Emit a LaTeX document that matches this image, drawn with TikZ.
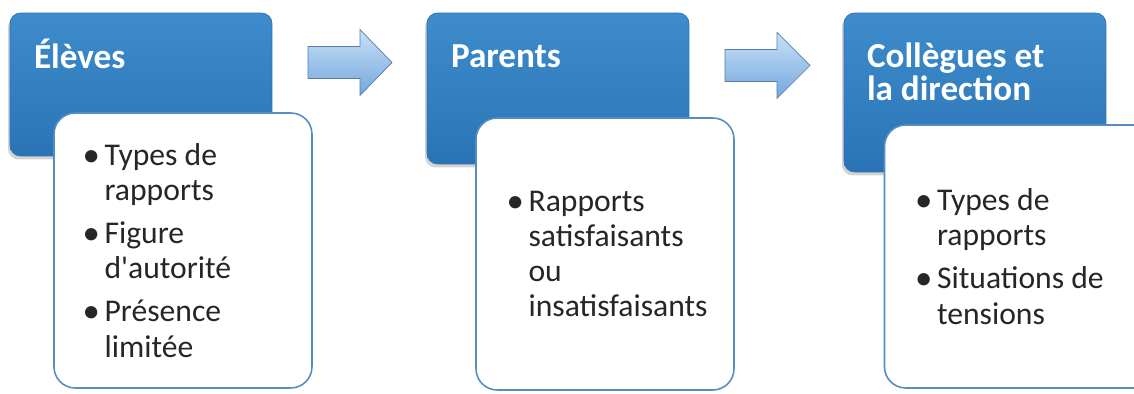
\documentclass[tikz,border=0pt]{standalone}
\usepackage{fontspec}
\setmainfont{Carlito}
\usetikzlibrary{positioning,shadows}
\definecolor{entetehaut}{RGB}{62,140,204}
\definecolor{entetebas}{RGB}{42,116,182}
\definecolor{cadre}{RGB}{84,141,196}
\definecolor{flechehaut}{RGB}{200,226,248}
\definecolor{flechebas}{RGB}{116,166,220}
\newcommand{\puce}{\makebox[0.44cm][l]{\raisebox{-0.4pt}{\scalebox{1.1}{\textbullet}}}}
\newcommand{\retrait}{\hspace*{0.44cm}}
\tikzset{
  entete/.style={rounded corners=6pt, top color=entetehaut, bottom color=entetebas, draw=entetebas,
    minimum width=5.24cm, inner sep=0pt, drop shadow={opacity=0.35, shadow xshift=-0.04cm, shadow yshift=-0.07cm}},
  titre/.style={anchor=base west, text=white, align=left, inner sep=0pt, font=\fontsize{20}{19}\selectfont\bfseries},
  fiche/.style={rounded corners=12pt, fill=white, draw=cadre, line width=0.9pt, minimum width=5.16cm, inner sep=0pt},
  liste/.style={anchor=west, align=left, inner sep=0pt, text=black!85, font=\fontsize{18}{20}\selectfont},
  fleche/.style={top color=flechehaut, bottom color=flechebas, draw=flechebas!75!black, line width=0.4pt}
}
\begin{document}
\begin{tikzpicture}[x=0.02cm, y=-0.02cm]
    \useasboundingbox (0,0) rectangle (1134,394);
    \clip (0,0) rectangle (1134,394);
    % eleves
    \node[entete, minimum height=2.86cm] (b1) at (141,84.5) {};
    \node[titre, xshift=0.48cm, yshift=-1.12cm] (t1) at (b1.north west) {Élèves};
    \node[fiche, minimum height=5.5cm] (w1) at (183,250.5) {};
    \node[liste, xshift=0.58cm] (l1) at (w1.west) {\puce Types de\\ \retrait rapports\\[4.5pt]
        \puce Figure\\ \retrait d\textquotesingle autorité\\[4.5pt] \puce Présence\\ \retrait limitée};
    \coordinate (f1) at (308,62.5);
    \draw[fleche] (f1) -- ++(0,-16) -- ++(52,0) -- ++(0,-17) -- ++(32,33) -- ++(-32,33) -- ++(0,-17) -- ++(-52,0) -- cycle;
    % parents
    \node[entete, minimum height=3.02cm] (b2) at (558,88.5) {};
    \node[titre, xshift=0.48cm, yshift=-1.1cm] (t2) at (b2.north west) {Parents};
    \node[fiche, minimum height=5.44cm] (w2) at (605,254) {};
    \node[liste, xshift=0.62cm] (l2) at (w2.west) {\puce Rapports\\ \retrait satisfaisants\\ \retrait ou\\ \retrait insatisfaisants};
    \coordinate (f2) at (725,65.5);
    \draw[fleche] (f2) -- ++(0,-16) -- ++(52,0) -- ++(0,-17) -- ++(33,33) -- ++(-33,33) -- ++(0,-17) -- ++(-52,0) -- cycle;
    % collegues
    \node[entete, minimum height=3.18cm] (b3) at (975,92.5) {};
    \node[titre, anchor=north west, xshift=0.46cm, yshift=-0.59cm] (t3) at (b3.north west) {Collègues et\\la direction};
    \node[fiche, minimum width=5.5cm, minimum height=5.26cm] (w3) at (1022,256.5) {};
    \node[liste, xshift=0.62cm] (l3) at (w3.west) {\puce Types de\\ \retrait rapports\\[4.5pt]
        \puce Situations de\\ \retrait tensions};
\end{tikzpicture}
\end{document}
